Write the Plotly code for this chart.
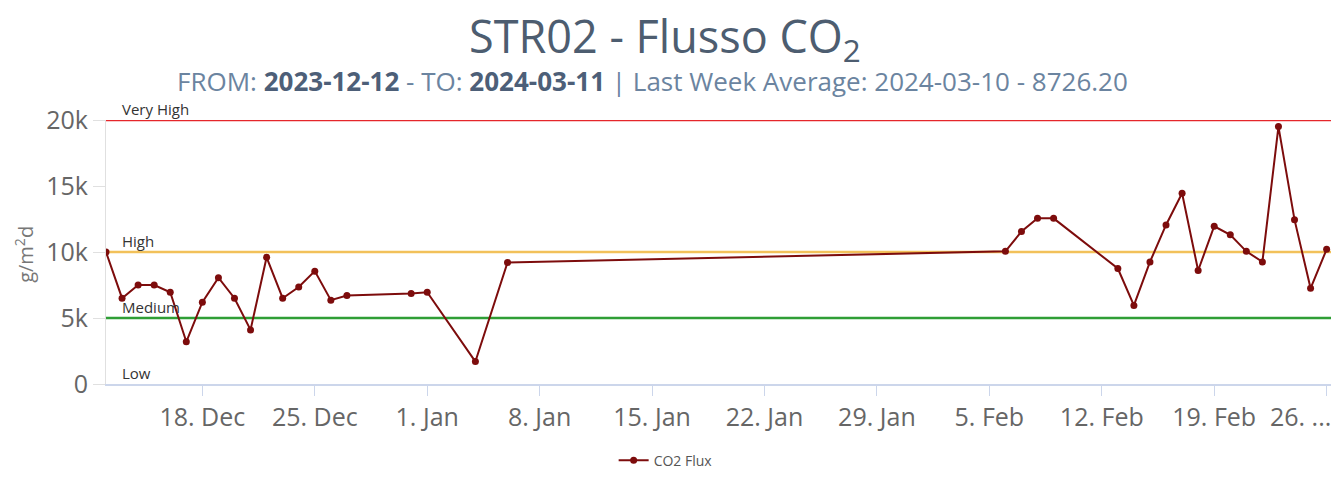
import plotly.graph_objects as go

dates = ["2023-12-12", "2023-12-13", "2023-12-14", "2023-12-15", "2023-12-16",
         "2023-12-17", "2023-12-18", "2023-12-19", "2023-12-20", "2023-12-21",
         "2023-12-22", "2023-12-23", "2023-12-24", "2023-12-25", "2023-12-26",
         "2023-12-27", "2023-12-31", "2024-01-01", "2024-01-04", "2024-01-06",
         "2024-02-06", "2024-02-07", "2024-02-08", "2024-02-09", "2024-02-13",
         "2024-02-14", "2024-02-15", "2024-02-16", "2024-02-17", "2024-02-18",
         "2024-02-19", "2024-02-20", "2024-02-21", "2024-02-22", "2024-02-23",
         "2024-02-24", "2024-02-25", "2024-02-26"]
co2_flux = [10000, 6500, 7500, 7500, 6950,
            3200, 6200, 8050, 6500, 4100,
            9600, 6500, 7350, 8550, 6350,
            6700, 6850, 6950, 1700, 9200,
            10050, 11550, 12550, 12550, 8750,
            5950, 9250, 12050, 14450, 8600,
            11950, 11300, 10050, 9250, 19500,
            12450, 7250, 10200]

thresholds = [20000, 10000, 5000, 0]
threshold_labels = ["Very High", "High", "Medium", "Low"]
threshold_colors = ["#e5262b", "#f2c15a", "#2f9e35", None]

tick_dates = ["2023-12-18", "2023-12-25", "2024-01-01", "2024-01-08", "2024-01-15",
              "2024-01-22", "2024-01-29", "2024-02-05", "2024-02-12", "2024-02-19",
              "2024-02-26"]
tick_labels = ["18. Dec", "25. Dec", "1. Jan", "8. Jan", "15. Jan", "22. Jan",
               "29. Jan", "5. Feb", "12. Feb", "19. Feb", "26. ..." + "&nbsp;" * 8]
y_ticks = [0, 5000, 10000, 15000, 20000]
y_tick_labels = ["0", "5k", "10k", "15k", "20k"]

x_range = ["2023-12-12 00:00", "2024-02-26 14:00"]

fig = go.Figure()

for val, col in zip(thresholds, threshold_colors):
    if col is None:
        continue
    fig.add_shape(type="line", xref="paper", x0=0, x1=1, yref="y", y0=val, y1=val,
                  line=dict(color=col, width=2.5), layer="below")

for val, lab in zip(thresholds, threshold_labels):
    fig.add_annotation(xref="paper", x=0.011, yref="y", y=val, text=lab,
                       showarrow=False, xanchor="left", yanchor="bottom", yshift=-1,
                       font=dict(family="Open Sans", size=15, color="#333333"))

fig.add_trace(go.Scatter(
    x=dates, y=co2_flux, mode="lines+markers", name="CO2 Flux",
    line=dict(color="#7d0c0c", width=2),
    marker=dict(color="#7d0c0c", size=7, symbol="circle"),
))

fig.add_annotation(xref="paper", yref="paper", x=0.4545, y=1.31, xanchor="center", yanchor="middle",
                   showarrow=False,
                   text="STR02 - Flusso CO<sub>2</sub>",
                   font=dict(family="Open Sans", size=45, color="#4d5d70"))
fig.add_annotation(xref="paper", yref="paper", x=0.4447, y=1.149, xanchor="center", yanchor="middle",
                   showarrow=False,
                   text=("FROM: <b style='color:#4d5f78'>2023-12-12</b> - TO: <b style='color:#4d5f78'>2024-03-11</b>"
                         " | Last Week Average: 2024-03-10 - 8726.20"),
                   font=dict(family="Open Sans", size=26, color="#6b84a0"))
fig.add_annotation(xref="paper", yref="paper", x=-0.0665, y=0.49, xanchor="center", yanchor="middle",
                   showarrow=False, textangle=-90,
                   text="g/m<sup>2</sup>d",
                   font=dict(family="Open Sans", size=20, color="#777777"))

# page body adds an 8px offset, so the figure is sized/margined to compensate
fig.update_layout(
    width=1331, height=471,
    margin=dict(l=98, r=3, t=112, b=90),
    paper_bgcolor="white", plot_bgcolor="white",
    showlegend=True,
    legend=dict(orientation="h", x=0.455, xanchor="center", y=-0.29, yanchor="middle",
                font=dict(family="Open Sans", size=14, color="#555555")),
    xaxis=dict(range=x_range, tickvals=tick_dates, ticktext=tick_labels,
               showgrid=False, showline=True, linecolor="#ccd6eb", linewidth=2,
               ticks="outside", ticklen=10, tickcolor="#ccd6eb", mirror=False,
               tickfont=dict(family="Open Sans", size=25, color="#666666"),
               zeroline=False, automargin=False, ticklabeloverflow="allow"),
    yaxis=dict(range=[0, 20000], tickvals=y_ticks, ticktext=y_tick_labels,
               showgrid=False, showline=True, linecolor="#e0e0e0", linewidth=1,
               ticks="outside", ticklen=12, tickcolor="#e0e0e0",
               tickfont=dict(family="Open Sans", size=25, color="#666666"),
               zeroline=False, automargin=False),
)

fig.add_shape(type="line", xref="paper", x0=1, x1=1, yref="paper", y0=0, y1=1,
              line=dict(color="#e6e6e6", width=1), layer="below")

fig.write_html("out.html")
